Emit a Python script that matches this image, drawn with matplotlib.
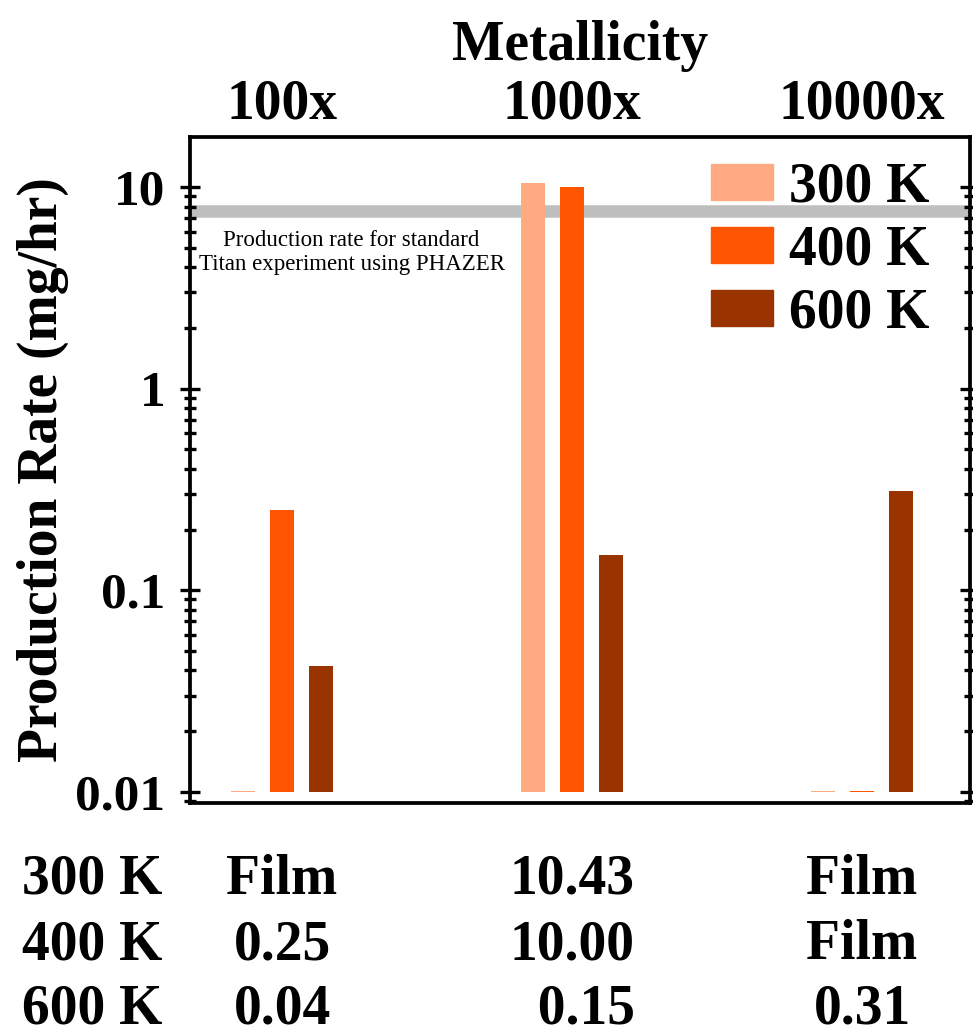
import matplotlib.pyplot as plt
from matplotlib.patches import Patch
from matplotlib.ticker import FixedLocator, LogLocator, NullFormatter
import numpy as np

# data
metallicity = ["100x", "1000x", "10000x"]
temps = ["300 K", "400 K", "600 K"]
rate_300 = [0.0101, 10.43, 0.0101]   # "Film" drawn as a sliver at the floor
rate_400 = [0.25, 10.00, 0.0101]
rate_600 = [0.042, 0.15, 0.31]
table_300 = ["Film", "10.43", "Film"]
table_400 = ["0.25", "10.00", "Film"]
table_600 = ["0.04", "  0.15", "0.31"]
phazer_rate = 7.6
colors = ["#FFAA80", "#FF5500", "#993300"]

plt.rcParams['font.family'] = ['Liberation Serif', 'DejaVu Serif']
plt.rcParams['font.weight'] = 'bold'

fig = plt.figure(figsize=(9.73, 10.34), dpi=100)
ax = fig.add_axes([190/973, 1 - 803/1034, 780/973, 666/1034])

x = np.arange(len(metallicity))
w = 0.083
off = 0.134
floor = 0.01
for i, (vals, c, t) in enumerate(zip([rate_300, rate_400, rate_600], colors, temps)):
    ax.bar(x + (i - 1) * off, np.array(vals) - floor, bottom=floor, width=w, color=c, label=t)

ax.axhline(phazer_rate, color="#BEBEBE", lw=9, zorder=0)
ax.text(0.24, 6.1, "Production rate for standard\nTitan experiment using PHAZER",
        ha="center", va="top", fontsize=16.5, fontweight="normal", linespacing=1.2)

ax.set_yscale("log")
ax.set_ylim(0.0088, 17.7)
ax.set_xlim(-0.317, 2.372)
ax.yaxis.set_major_locator(FixedLocator([0.01, 0.1, 1, 10]))
ax.set_yticklabels(["0.01", "0.1", "1", "10"])
ax.yaxis.set_minor_locator(LogLocator(base=10, subs=np.arange(2, 10)))
ax.yaxis.set_minor_formatter(NullFormatter())
ax.tick_params(axis="y", which="major", direction="inout", length=14, width=2.4,
               labelsize=37, pad=11, right=True)
ax.tick_params(axis="y", which="minor", direction="inout", length=9, width=2.4, right=True)

ax.xaxis.tick_top()
ax.set_xticks(x)
ax.set_xticklabels(metallicity)
ax.tick_params(axis="x", length=0, labelsize=40, pad=5)
ax.set_xlabel("Metallicity", fontsize=40, fontweight="bold", labelpad=13)
ax.xaxis.set_label_position("top")
ax.set_ylabel("Production Rate (mg/hr)", fontsize=40, fontweight="bold", labelpad=4)

for s in ax.spines.values():
    s.set_linewidth(2.7)

handles = [Patch(color=c, label=t) for c, t in zip(colors, temps)]
ax.legend(handles=handles, loc="upper right", frameon=False, fontsize=40,
          handlelength=1.1, handleheight=0.63, handletextpad=0.3, labelspacing=0.2,
          borderaxespad=0.2, bbox_to_anchor=(0.991, 1.0135))

# value table under the plot
rows_y = [880, 945, 1010]
cols_x = [282, 572, 862]
for ry, t, vals in zip(rows_y, temps, [table_300, table_400, table_600]):
    fig.text(22/973, 1 - ry/1034, t, fontsize=40, fontweight="bold", ha="left", va="center")
    for cx, v in zip(cols_x, vals):
        fig.text(cx/973, 1 - ry/1034, v, fontsize=40, fontweight="bold", ha="center", va="center")

fig.savefig("out.png", dpi=100)
